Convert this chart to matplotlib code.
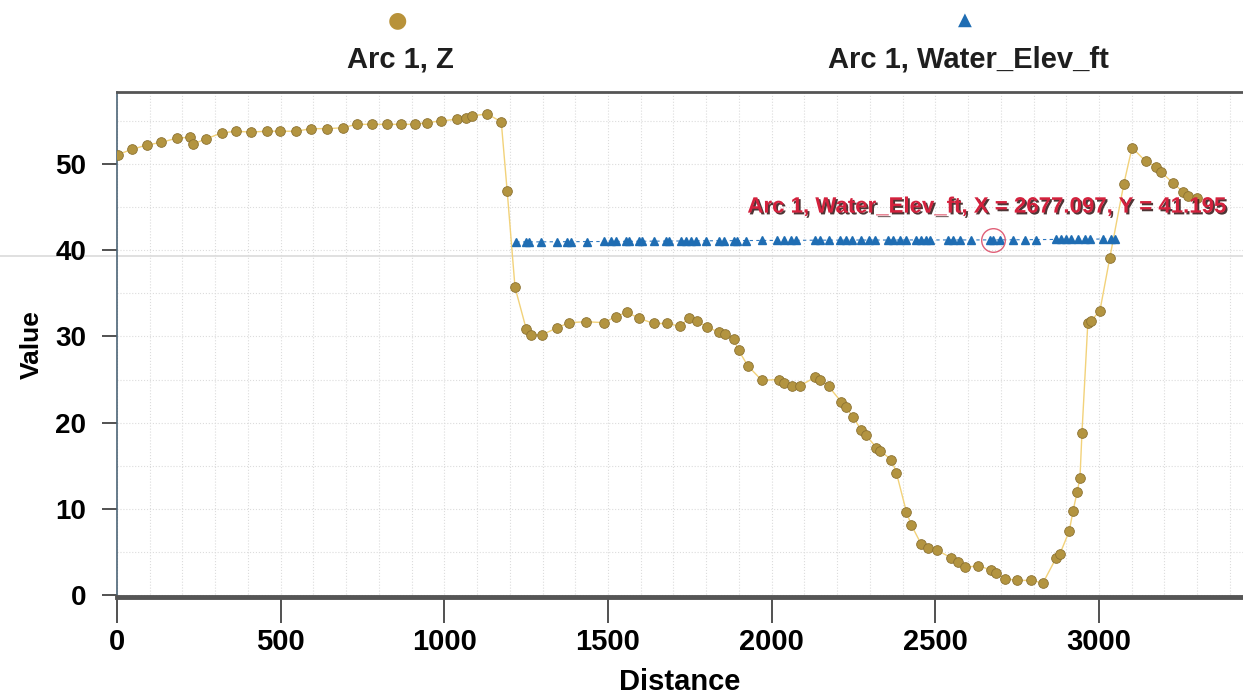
import matplotlib.pyplot as plt
import matplotlib.patheffects as pe
from matplotlib.lines import Line2D
from matplotlib.ticker import MultipleLocator

plt.rcParams['font.family'] = ['Liberation Sans', 'DejaVu Sans']

# Arc 1, Z (ground profile)
z_dist = [3, 46, 91, 134, 183, 223, 232, 271, 320, 363, 408, 457, 497, 546, 594,
          643, 689, 732, 780, 826, 869, 909, 948, 991, 1040, 1065, 1085, 1131, 1174,
          1192, 1216, 1250, 1265, 1299, 1345, 1381, 1433, 1488, 1524, 1558, 1595,
          1640, 1680, 1720, 1747, 1771, 1802, 1838, 1857, 1884, 1899, 1927, 1970,
          2021, 2037, 2061, 2088, 2134, 2149, 2174, 2213, 2226, 2250, 2274, 2287,
          2320, 2332, 2366, 2381, 2412, 2427, 2457, 2479, 2506, 2549, 2570, 2591,
          2631, 2671, 2686, 2713, 2750, 2793, 2829, 2869, 2881, 2909, 2921, 2933,
          2942, 2948, 2966, 2976, 3003, 3033, 3076, 3101, 3143, 3174, 3189, 3226,
          3256, 3271, 3300]
z_val = [51.1, 51.7, 52.2, 52.5, 53.0, 53.1, 52.3, 52.9, 53.6, 53.8, 53.7, 53.8,
         53.8, 53.8, 54.1, 54.1, 54.2, 54.6, 54.6, 54.6, 54.6, 54.6, 54.8, 55.0,
         55.2, 55.3, 55.6, 55.8, 54.9, 46.9, 35.7, 30.9, 30.2, 30.2, 31.0, 31.6,
         31.7, 31.6, 32.3, 32.8, 32.1, 31.5, 31.5, 31.2, 32.1, 31.8, 31.1, 30.5,
         30.3, 29.7, 28.4, 26.6, 24.9, 25.0, 24.6, 24.2, 24.3, 25.3, 25.0, 24.2,
         22.4, 21.8, 20.6, 19.1, 18.6, 17.1, 16.7, 15.7, 14.2, 9.6, 8.1, 5.9, 5.5,
         5.2, 4.3, 3.8, 3.2, 3.4, 2.9, 2.6, 1.9, 1.7, 1.7, 1.4, 4.3, 4.8, 7.4, 9.8,
         11.9, 13.6, 18.8, 31.6, 31.8, 33.0, 39.1, 47.7, 51.9, 50.3, 49.7, 49.1,
         47.8, 46.8, 46.3, 46.0]

# Arc 1, Water_Elev_ft
w_dist = [1220, 1250, 1259, 1296, 1345, 1375, 1387, 1436, 1488, 1509, 1524, 1555,
          1564, 1595, 1604, 1640, 1677, 1686, 1723, 1738, 1753, 1768, 1799, 1838,
          1854, 1884, 1893, 1921, 1970, 2015, 2037, 2058, 2073, 2134, 2149, 2174,
          2210, 2226, 2244, 2274, 2296, 2317, 2357, 2372, 2393, 2412, 2442, 2457,
          2473, 2485, 2540, 2555, 2576, 2610, 2668, 2677, 2698, 2738, 2774, 2808,
          2869, 2884, 2899, 2915, 2936, 2957, 2973, 3012, 3037, 3049]
w_val = [40.95, 40.96, 40.96, 40.97, 40.98, 40.99, 40.99, 41.00, 41.01, 41.02,
         41.02, 41.03, 41.03, 41.04, 41.04, 41.05, 41.06, 41.06, 41.07, 41.07,
         41.08, 41.08, 41.09, 41.10, 41.10, 41.11, 41.11, 41.12, 41.13, 41.14,
         41.14, 41.15, 41.15, 41.16, 41.16, 41.17, 41.17, 41.17, 41.18, 41.18,
         41.18, 41.18, 41.18, 41.18, 41.19, 41.19, 41.19, 41.19, 41.19, 41.19,
         41.19, 41.19, 41.19, 41.19, 41.195, 41.195, 41.20, 41.21, 41.22, 41.23,
         41.25, 41.25, 41.26, 41.26, 41.27, 41.28, 41.28, 41.30, 41.31, 41.31]

hover_x, hover_y = 2677.097, 41.195

fig = plt.figure(figsize=(12.43, 6.96), dpi=100)
ax = fig.add_axes([0.0941, 0.1422, 0.9059, 0.7256])
ax.patch.set_alpha(0)

# crosshair line across the whole figure, behind everything
fig.add_artist(Line2D([0, 1], [1 - 256 / 696, 1 - 256 / 696], color='#dadada', lw=1.2,
                      transform=fig.transFigure, zorder=-1))

ax.plot(z_dist, z_val, '-', color='#f2d27a', lw=1.0, zorder=2)
ax.plot(z_dist, z_val, 'o', ms=7, mfc='#b39440', mec='#8c7232', mew=0.6, zorder=3)
ax.plot(w_dist, w_val, '--', color='#2f78c0', lw=0.8, dashes=(3, 3), zorder=2)
ax.plot(w_dist, w_val, '^', ms=5.5, mfc='#1f6db3', mec='#1f6db3', zorder=3)

# hover marker + label
ax.plot([hover_x], [hover_y], 'o', ms=17, mfc='none', mec='#e06078', mew=1.0, zorder=4)
ax.text(3390, 45.0, 'Arc 1, Water_Elev_ft, X = 2677.097, Y = 41.195',
        ha='right', va='center', fontsize=16, fontweight='bold', color='#d4213d',
        path_effects=[pe.SimplePatchShadow(offset=(1.3, -1.3), shadow_rgbFace='#3a2020', alpha=0.9),
                      pe.Normal()], zorder=5)

ax.set_xlim(0, 3440)
ax.set_ylim(-0.23, 58.35)
ax.xaxis.set_major_locator(MultipleLocator(500))
ax.yaxis.set_major_locator(MultipleLocator(10))
ax.xaxis.set_minor_locator(MultipleLocator(100))
ax.yaxis.set_minor_locator(MultipleLocator(5))
ax.grid(which='both', ls=':', color='#dcdcdc', lw=0.8)
ax.tick_params(which='minor', length=0)
ax.tick_params(axis='x', which='major', length=19, width=1.2, color='#333333',
               labelsize=21, pad=3)
ax.tick_params(axis='y', which='major', length=11, width=1.2, color='#333333',
               labelsize=20, pad=11)
for lab in ax.get_xticklabels() + ax.get_yticklabels():
    lab.set_fontweight('bold')

ax.spines['right'].set_visible(False)
ax.spines['left'].set_color('#4d6577')
ax.spines['left'].set_linewidth(1.2)
ax.spines['top'].set_color('#555555')
ax.spines['top'].set_linewidth(2)
ax.spines['bottom'].set_color('#555555')
ax.spines['bottom'].set_linewidth(3.5)

ax.set_xlabel('Distance', fontsize=21, fontweight='bold', labelpad=9)
ax.set_ylabel('Value', fontsize=19, fontweight='bold', labelpad=8)

# legend on top: marker above label
fig.text(397 / 1243, 1 - 20 / 696, '\u25cf', ha='center', va='center', fontsize=16,
         color='#b8923a', family='DejaVu Sans')
fig.text(400 / 1243, 1 - 60 / 696, 'Arc 1, Z', ha='center', va='center',
         fontsize=21, fontweight='bold', color='#1e1e1e')
fig.text(965 / 1243, 1 - 20 / 696, '\u25b2', ha='center', va='center', fontsize=13,
         color='#1f6db3', family='DejaVu Sans')
fig.text(968 / 1243, 1 - 60 / 696, 'Arc 1, Water_Elev_ft', ha='center', va='center',
         fontsize=21, fontweight='bold', color='#1e1e1e')

fig.savefig('out.png', dpi=100, facecolor='white')
